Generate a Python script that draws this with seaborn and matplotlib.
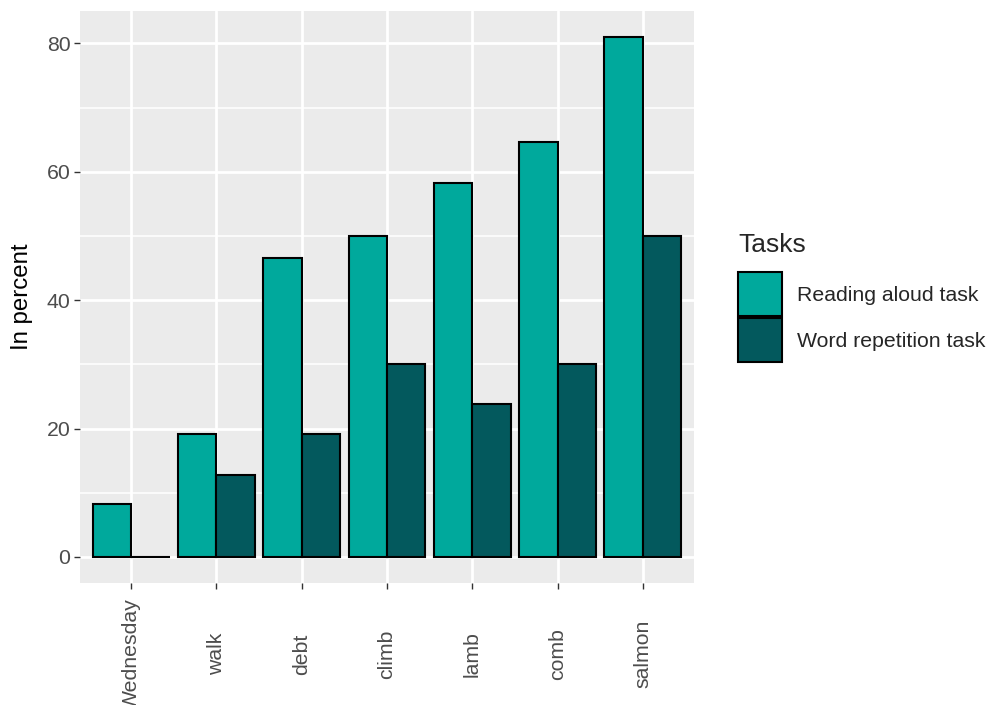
import numpy as np
import pandas as pd
import matplotlib
matplotlib.use("Agg")
import matplotlib.pyplot as plt
import seaborn as sns
from matplotlib.patches import Patch
from matplotlib.ticker import MultipleLocator

words = ["Wednesday", "walk", "debt", "climb", "lamb", "comb", "salmon"]
reading_aloud = [8.3, 19.2, 46.5, 50.0, 58.3, 64.6, 81.0]
word_repetition = [0.0, 12.8, 19.2, 30.0, 23.8, 30.0, 50.0]
tasks = ["Reading aloud task", "Word repetition task"]
colors = ["#00A99C", "#03595D"]

df = pd.DataFrame({
    "word": words * 2,
    "value": reading_aloud + word_repetition,
    "task": [tasks[0]] * len(words) + [tasks[1]] * len(words),
})

sns.set_theme(style="darkgrid")
plt.rcParams["font.family"] = ["Liberation Sans", "DejaVu Sans"]

fig = plt.figure(figsize=(9.92, 7.05), dpi=100)
ax = fig.add_axes([80 / 992, (705 - 583) / 705, 614 / 992, 572 / 705])

sns.barplot(data=df, x="word", y="value", hue="task", order=words, hue_order=tasks,
            palette=colors, width=0.9, edgecolor="black", linewidth=1.5,
            saturation=1, ax=ax, legend=False)

ax.set_facecolor("#EBEBEB")
ax.set_xlim(-0.6, 6.6)
ax.set_ylim(-4.05, 85.05)
ax.yaxis.set_major_locator(MultipleLocator(20))
ax.yaxis.set_minor_locator(MultipleLocator(10))
ax.grid(which="major", color="white", linewidth=2.0)
ax.grid(which="minor", axis="y", color="white", linewidth=1.1)
ax.set_axisbelow(True)
for s in ax.spines.values():
    s.set_visible(False)

ax.tick_params(axis="both", which="major", length=4, width=1.0, color="#333333",
               labelsize=15.3, labelcolor="#4D4D4D")
ax.tick_params(axis="y", which="major", left=True, pad=3)
ax.tick_params(axis="x", which="major", bottom=True, pad=47)
ax.tick_params(axis="y", which="minor", length=0)
for lbl in ax.get_xticklabels():
    lbl.set_rotation(90)
    lbl.set_va("center")
    lbl.set_ha("center")

ax.set_xlabel("")
ax.set_ylabel("In percent", fontsize=17.3, color="black")
ax.yaxis.set_label_coords(-0.0765, 0.5)

handles = [Patch(facecolor=c, edgecolor="black", linewidth=1.5) for c in colors]
leg = fig.legend(handles, tasks, title="Tasks", loc="upper left",
                 bbox_to_anchor=(738 / 992, 1 - 233 / 705), frameon=False,
                 fontsize=15.3, title_fontsize=19, handlelength=2.07, handleheight=2.81,
                 labelspacing=0.1, handletextpad=0.7, borderaxespad=0, borderpad=0)
leg._legend_box.align = "left"
leg._legend_box.sep = 11

fig.savefig("out.png", dpi=100)
